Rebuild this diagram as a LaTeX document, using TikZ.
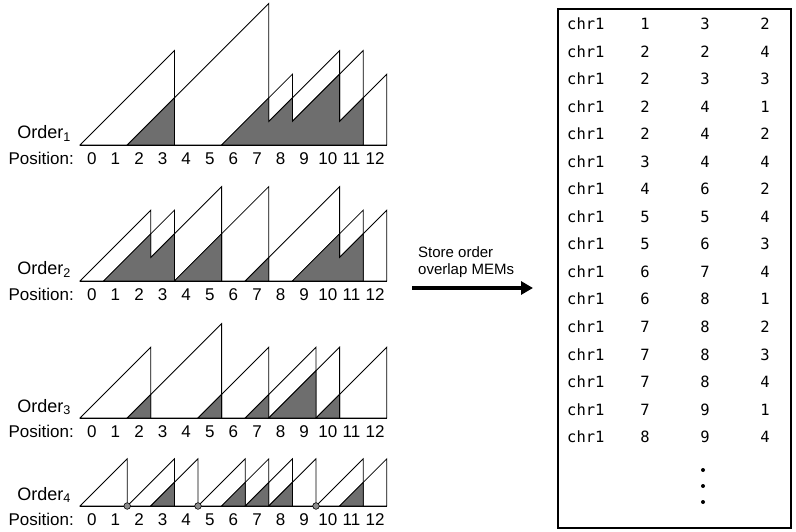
\documentclass[tikz,border=0pt]{standalone}
\usepackage{fontspec}
\setmainfont{Liberation Sans}
\setmonofont{DejaVu Sans Mono}
\usetikzlibrary{positioning,arrows.meta}

\tikzset{
  tri/.style={draw,line width=0.8pt,line join=miter},
  overlap/.style={draw,fill=black!57,line width=0.8pt},
  lbl/.style={inner sep=0pt,font=\fontsize{17}{19}\selectfont},
  cell/.style={inner sep=0pt,font=\ttfamily\fontsize{15.5}{17}\selectfont}
}
% one triangle from boundary a to boundary b
\newcommand{\tri}[2]{\draw[tri] (#1,0) -- (#2,#2-#1) -- (#2,0) -- cycle;}

\begin{document}
\begin{tikzpicture}[x=1pt,y=1pt]
\useasboundingbox (0,0) rectangle (796,531);

%%% orders
\foreach \k/\base in {1/145,2/281,3/418,4/506}{
  \node[lbl,anchor=base east] (ord\k) at (71,531-\base+6) {\fontsize{18}{20}\selectfont Order\textsubscript{\k}};
  \node[lbl,anchor=base east] (pos\k) at (74,531-\base-19.5) {Position:};
  \foreach \i in {0,...,12}
    \node[lbl,anchor=base] (p\k-\i) at ({80+23.6*(\i+0.5)},531-\base-19.5) {\i};
}

% Order 1
\begin{scope}[shift={(80,386)},x=23.6pt,y=23.6pt]
\foreach \a/\b in {0/4,2/8,6/9,7/11,8/12,10/13} {\tri{\a}{\b}}
\draw[tri] (0,0) -- (13,0);
\draw[overlap] (2,0) -- (4,2) -- (4,0) -- cycle;
\draw[overlap] (6,0) -- (8,2) -- (8,1) -- (9,2) -- (9,1) -- (11,3) -- (11,1) -- (12,2) -- (12,0) -- cycle;
\end{scope}

% Order 2
\begin{scope}[shift={(80,250)},x=23.6pt,y=23.6pt]
\foreach \a/\b in {0/3,1/4,2/6,4/8,7/11,9/12,10/13} {\tri{\a}{\b}}
\draw[tri] (0,0) -- (13,0);
\draw[overlap] (1,0) -- (3,2) -- (3,1) -- (4,2) -- (4,0) -- cycle;
\draw[overlap] (4,0) -- (6,2) -- (6,0) -- cycle;
\draw[overlap] (7,0) -- (8,1) -- (8,0) -- cycle;
\draw[overlap] (9,0) -- (11,2) -- (11,1) -- (12,2) -- (12,0) -- cycle;
\end{scope}

% Order 3
\begin{scope}[shift={(80,113)},x=23.6pt,y=23.6pt]
\foreach \a/\b in {0/3,2/6,5/8,7/10,8/11,10/13} {\tri{\a}{\b}}
\draw[tri] (0,0) -- (13,0);
\foreach \a/\b in {2/3,5/6,7/8,8/10,10/11}
  \draw[overlap] (\a,0) -- (\b,\b-\a) -- (\b,0) -- cycle;
\end{scope}

% Order 4
\begin{scope}[shift={(80,25)},x=23.6pt,y=23.6pt]
\foreach \a/\b in {0/2,2/4,3/5,5/7,6/8,7/9,8/10,10/12,11/13} {\tri{\a}{\b}}
\draw[tri] (0,0) -- (13,0);
\foreach \a/\b in {3/4,6/7,7/8,8/9,11/12}
  \draw[overlap] (\a,0) -- (\b,\b-\a) -- (\b,0) -- cycle;
\foreach \c in {2,5,10}
  \draw[fill=black!45,line width=0.6pt] (\c,0) circle (3.3pt);
\end{scope}

%%% arrow
\coordinate (arrS) at (412,243);
\coordinate (arrE) at (533,243);
\draw[line width=4.5pt,-{Triangle[length=12pt,width=13pt]}] (arrS) -- (arrE);
\node[inner sep=0pt,anchor=north west,align=left,font=\fontsize{15}{17}\selectfont] (store) at (418,285) {Store order\\overlap MEMs};

%%% table
\node[draw,line width=1.6pt,minimum width=233pt,minimum height=519pt,anchor=north west] (tbl) at (557,523) {};
\foreach \ca/\cb/\cc [count=\r] in {1/3/2,2/2/4,2/3/3,2/4/1,2/4/2,3/4/4,4/6/2,5/5/4,5/6/3,6/7/4,6/8/1,7/8/2,7/8/3,7/8/4,7/9/1,8/9/4}{
  \node[cell,anchor=base west] (c\r) at (567,{531-30-27.5*(\r-1)}) {chr1};
  \node[cell,anchor=base] (x\r) at (645,{531-30-27.5*(\r-1)}) {\ca};
  \node[cell,anchor=base] (y\r) at (705,{531-30-27.5*(\r-1)}) {\cb};
  \node[cell,anchor=base] (z\r) at (765,{531-30-27.5*(\r-1)}) {\cc};
}
\foreach \d in {470,486,502}
  \fill (703,531-\d) circle (2pt);
\end{tikzpicture}
\end{document}
